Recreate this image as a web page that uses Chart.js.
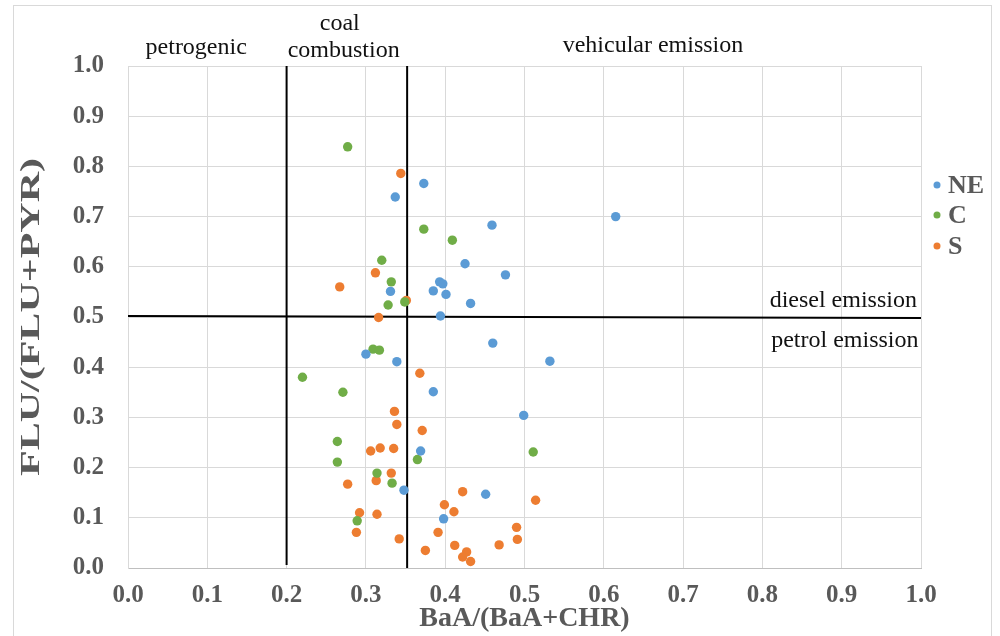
<!DOCTYPE html>
<html>
<head>
<meta charset="utf-8">
<script src="https://cdn.jsdelivr.net/npm/chart.js@4/dist/chart.umd.min.js"></script>
<style>
  html, body { margin: 0; padding: 0; background: #fff; }
  #wrap { width: 1000px; height: 636px; position: relative; }
</style>
</head>
<body>
<div id="wrap"><canvas id="c"></canvas></div>
<script>
// BaA/(BaA+CHR) vs FLU/(FLU+PYR)
const seriesNames = ['NE', 'C', 'S'];
const seriesColors = ['#5B9BD5', '#70AD47', '#ED7D31'];

const neX = [0.373, 0.337, 0.459, 0.615, 0.425, 0.476, 0.393, 0.397, 0.331, 0.385, 0.401, 0.432, 0.394,
  0.460, 0.300, 0.339, 0.532, 0.385, 0.499, 0.369, 0.348, 0.451, 0.398];
const neY = [0.766, 0.739, 0.683, 0.700, 0.606, 0.584, 0.570, 0.566, 0.551, 0.552, 0.545, 0.527, 0.502,
  0.448, 0.426, 0.411, 0.412, 0.351, 0.304, 0.233, 0.155, 0.147, 0.098];

const cX = [0.277, 0.373, 0.409, 0.320, 0.332, 0.328, 0.349, 0.309, 0.317, 0.220, 0.271, 0.264, 0.365,
  0.511, 0.264, 0.314, 0.333, 0.289];
const cY = [0.839, 0.675, 0.653, 0.613, 0.570, 0.524, 0.530, 0.436, 0.434, 0.380, 0.350, 0.252, 0.216,
  0.231, 0.211, 0.189, 0.169, 0.094];

const sX = [0.344, 0.312, 0.267, 0.351, 0.316, 0.368, 0.336, 0.339, 0.371, 0.306, 0.318, 0.335, 0.332,
  0.313, 0.277, 0.422, 0.514, 0.399, 0.411, 0.292, 0.314, 0.490, 0.288, 0.391, 0.491, 0.342, 0.468,
  0.412, 0.375, 0.427, 0.422, 0.432];
const sY = [0.786, 0.588, 0.560, 0.533, 0.499, 0.388, 0.312, 0.286, 0.274, 0.233, 0.239, 0.238, 0.189,
  0.174, 0.167, 0.152, 0.135, 0.126, 0.112, 0.110, 0.107, 0.081, 0.071, 0.071, 0.057, 0.058, 0.046,
  0.045, 0.035, 0.032, 0.022, 0.013];

// source boundary lines
const petroLineX = [0.2, 0.2];
const petroLineY = [0.006, 1.0];
const coalLineX = [0.352, 0.352];
const coalLineY = [0.0, 1.0];
const dieselLineX = [0.0, 1.0];
const dieselLineY = [0.502, 0.498];

const tickValues = [0, 0.1, 0.2, 0.3, 0.4, 0.5, 0.6, 0.7, 0.8, 0.9, 1.0];

// region labels: text, x value, y value
const regionLabels = [
  ['petrogenic', 0.086, 1.036],
  ['coal', 0.267, 1.084],
  ['combustion', 0.272, 1.030],
  ['vehicular emission', 0.662, 1.040],
  ['diesel emission', 0.902, 0.532],
  ['petrol emission', 0.904, 0.452]
];

const toPts = (xs, ys) => xs.map((x, i) => ({x: x, y: ys[i]}));

const serifFont = "'Liberation Serif', 'Times New Roman', serif";

const scatterSets = [toPts(neX, neY), toPts(cX, cY), toPts(sX, sY)].map((pts, i) => ({
  label: seriesNames[i],
  data: pts,
  backgroundColor: seriesColors[i],
  borderColor: seriesColors[i],
  pointRadius: 4.7,
  pointBorderWidth: 0,
  showLine: false
}));

const lineSets = [[petroLineX, petroLineY], [coalLineX, coalLineY], [dieselLineX, dieselLineY]].map(l => ({
  label: '',
  data: toPts(l[0], l[1]),
  borderColor: '#000',
  borderWidth: 2,
  pointRadius: 0,
  showLine: true
}));

const decor = {
  id: 'decor',
  beforeDraw(chart) {
    const ctx = chart.ctx;
    ctx.save();
    ctx.strokeStyle = '#d9d9d9';
    ctx.lineWidth = 1;
    ctx.strokeRect(13.5, 5.5, 978, 640);
    ctx.restore();
  },
  afterDraw(chart) {
    const ctx = chart.ctx;
    const xs = chart.scales.x, ys = chart.scales.y;
    ctx.save();
    ctx.fillStyle = '#111';
    ctx.font = '24px ' + serifFont;
    ctx.textAlign = 'center';
    ctx.textBaseline = 'middle';
    regionLabels.forEach(r => {
      ctx.fillText(r[0], xs.getPixelForValue(r[1]), ys.getPixelForValue(r[2]));
    });

    // y title, stretched along the axis like the source figure
    ctx.save();
    ctx.translate(32, (chart.chartArea.top + chart.chartArea.bottom) / 2);
    ctx.rotate(-Math.PI / 2);
    ctx.scale(1.5, 1);
    ctx.font = 'bold 28px ' + serifFont;
    ctx.fillStyle = '#595959';
    ctx.fillText('FLU/(FLU+PYR)', 0, 0);
    ctx.restore();

    // legend
    const lx = 937, ly = [185, 215, 246];
    ctx.font = 'bold 26px ' + serifFont;
    ctx.textAlign = 'left';
    seriesNames.forEach((n, i) => {
      ctx.fillStyle = seriesColors[i];
      ctx.beginPath();
      ctx.arc(lx, ly[i], 3.5, 0, Math.PI * 2);
      ctx.fill();
      ctx.fillStyle = '#595959';
      ctx.fillText(n, lx + 11, ly[i] + 1);
    });
    ctx.restore();
  }
};

const tickFont = {family: serifFont, size: 25, weight: 'bold'};
const titleFont = {family: serifFont, size: 28, weight: 'bold'};

new Chart(document.getElementById('c'), {
  type: 'scatter',
  data: {datasets: scatterSets.concat(lineSets)},
  options: {
    responsive: true,
    maintainAspectRatio: false,
    animation: false,
    layout: {padding: {left: 0, right: 79, top: 66, bottom: 0}},
    plugins: {
      legend: {display: false},
      tooltip: {enabled: false}
    },
    scales: {
      x: {
        type: 'linear',
        min: 0, max: 1,
        afterFit: (s) => { s.height = 68; },
        afterBuildTicks: (s) => { s.ticks = tickValues.map(v => ({value: v})); },
        grid: {color: '#d9d9d9', drawTicks: false},
        border: {color: '#bfbfbf'},
        ticks: {
          font: tickFont, color: '#595959', padding: 13, autoSkip: false, maxRotation: 0,
          callback: (v) => Number(v).toFixed(1)
        },
        title: {display: true, text: 'BaA/(BaA+CHR)', font: titleFont, color: '#595959', padding: {top: 0, bottom: 0}}
      },
      y: {
        type: 'linear',
        min: 0, max: 1,
        afterFit: (s) => { s.width = 128; },
        afterBuildTicks: (s) => { s.ticks = tickValues.map(v => ({value: v})); },
        grid: {color: '#d9d9d9', drawTicks: false},
        border: {color: '#d9d9d9'},
        ticks: {
          font: tickFont, color: '#595959', padding: 24, autoSkip: false,
          callback: (v) => Number(v).toFixed(1)
        },
        title: {display: false}
      }
    }
  },
  plugins: [decor]
});
</script>
</body>
</html>
